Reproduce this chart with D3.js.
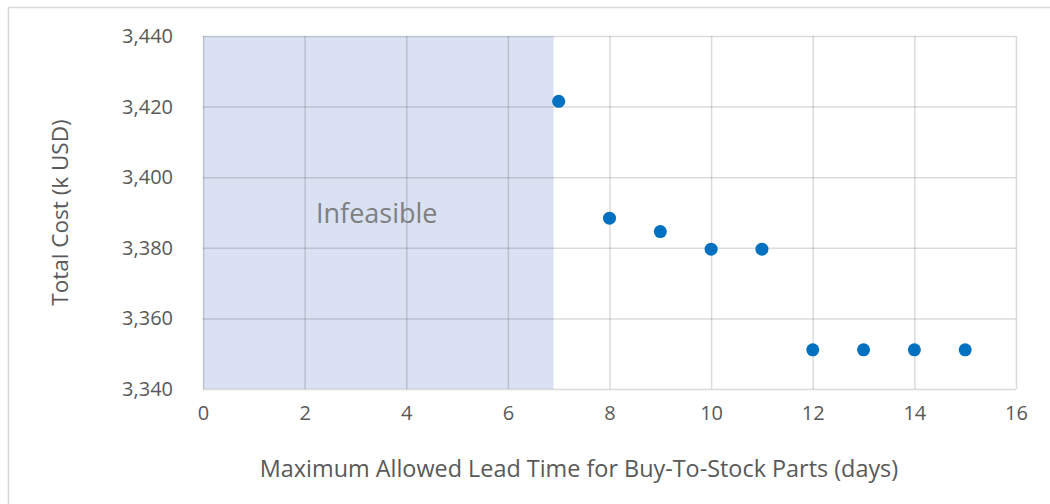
<!DOCTYPE html>
<html>
<head>
<meta charset="utf-8">
<script src="https://cdn.jsdelivr.net/npm/d3@7/dist/d3.min.js"></script>
<style>
  html, body { margin: 0; padding: 0; background: #fff; }
  svg { display: block; font-family: "Open Sans", sans-serif; }
</style>
</head>
<body>
<svg id="chart" width="1050" height="504"></svg>
<script>
// Total cost versus the maximum allowed lead time for buy-to-stock parts
const leadTimes = [7, 8, 9, 10, 11, 12, 13, 14, 15];
const totalCost = [3421.5, 3388.4, 3384.6, 3379.6, 3379.6, 3351.1, 3351.1, 3351.1, 3351.1];
const infeasibleUpTo = 6.9;
const xTicks = [0, 2, 4, 6, 8, 10, 12, 14, 16];
const yTicks = [3340, 3360, 3380, 3400, 3420, 3440];

const svg = d3.select("#chart");
const plot = { left: 203, right: 1016, top: 36, bottom: 389 };

const x = d3.scaleLinear().domain([0, 16]).range([plot.left, plot.right]);
const y = d3.scaleLinear().domain([3340, 3440]).range([plot.bottom, plot.top]);

// chart frame
svg.append("rect")
  .attr("x", 8.5).attr("y", 7.5)
  .attr("width", 1060).attr("height", 520)
  .attr("fill", "none")
  .attr("stroke", "#d9d9d9")
  .attr("stroke-width", 1.5);

// infeasible region
svg.append("rect")
  .attr("x", x(0))
  .attr("y", y(3440))
  .attr("width", x(infeasibleUpTo) - x(0))
  .attr("height", y(3340) - y(3440))
  .attr("fill", "#d9e1f2");

// gridlines (translucent so they darken over the shaded region)
const gridColor = "rgba(0,0,0,0.14)";

const yAxis = svg.append("g")
  .attr("transform", `translate(${plot.left},0)`)
  .call(d3.axisLeft(y).tickValues(yTicks).tickFormat(d3.format(","))
    .tickSize(-(plot.right - plot.left)).tickPadding(30));
yAxis.select(".domain").remove();
yAxis.selectAll(".tick line").attr("stroke", gridColor).attr("stroke-width", 1.5);
yAxis.selectAll(".tick text")
  .attr("fill", "#595959")
  .attr("font-size", 20)
  .attr("font-family", "Open Sans, sans-serif");

const xAxis = svg.append("g")
  .attr("transform", `translate(0,${plot.bottom})`)
  .call(d3.axisBottom(x).tickValues(xTicks).tickFormat(d3.format("d"))
    .tickSize(-(plot.bottom - plot.top)).tickPadding(17));
xAxis.select(".domain").remove();
xAxis.selectAll(".tick line").attr("stroke", gridColor).attr("stroke-width", 1.5);
xAxis.selectAll(".tick text")
  .attr("fill", "#595959")
  .attr("font-size", 20)
  .attr("font-family", "Open Sans, sans-serif");

// region label
svg.append("text")
  .attr("x", 316)
  .attr("y", 223)
  .attr("fill", "#7f7f7f")
  .attr("font-size", 27)
  .text("Infeasible");

// data points
svg.append("g")
  .selectAll("circle")
  .data(leadTimes.map((t, i) => ({ t, c: totalCost[i] })))
  .join("circle")
  .attr("cx", d => x(d.t))
  .attr("cy", d => y(d.c))
  .attr("r", 6.5)
  .attr("fill", "#0070c0");

// axis titles
svg.append("text")
  .attr("x", 579)
  .attr("y", 477)
  .attr("text-anchor", "middle")
  .attr("fill", "#595959")
  .attr("font-size", 23.4)
  .text("Maximum Allowed Lead Time for Buy-To-Stock Parts (days)");

svg.append("text")
  .attr("transform", `translate(68,${(plot.top + plot.bottom) / 2}) rotate(-90)`)
  .attr("text-anchor", "middle")
  .attr("fill", "#595959")
  .attr("font-size", 22.5)
  .text("Total Cost (k USD)");
</script>
</body>
</html>
